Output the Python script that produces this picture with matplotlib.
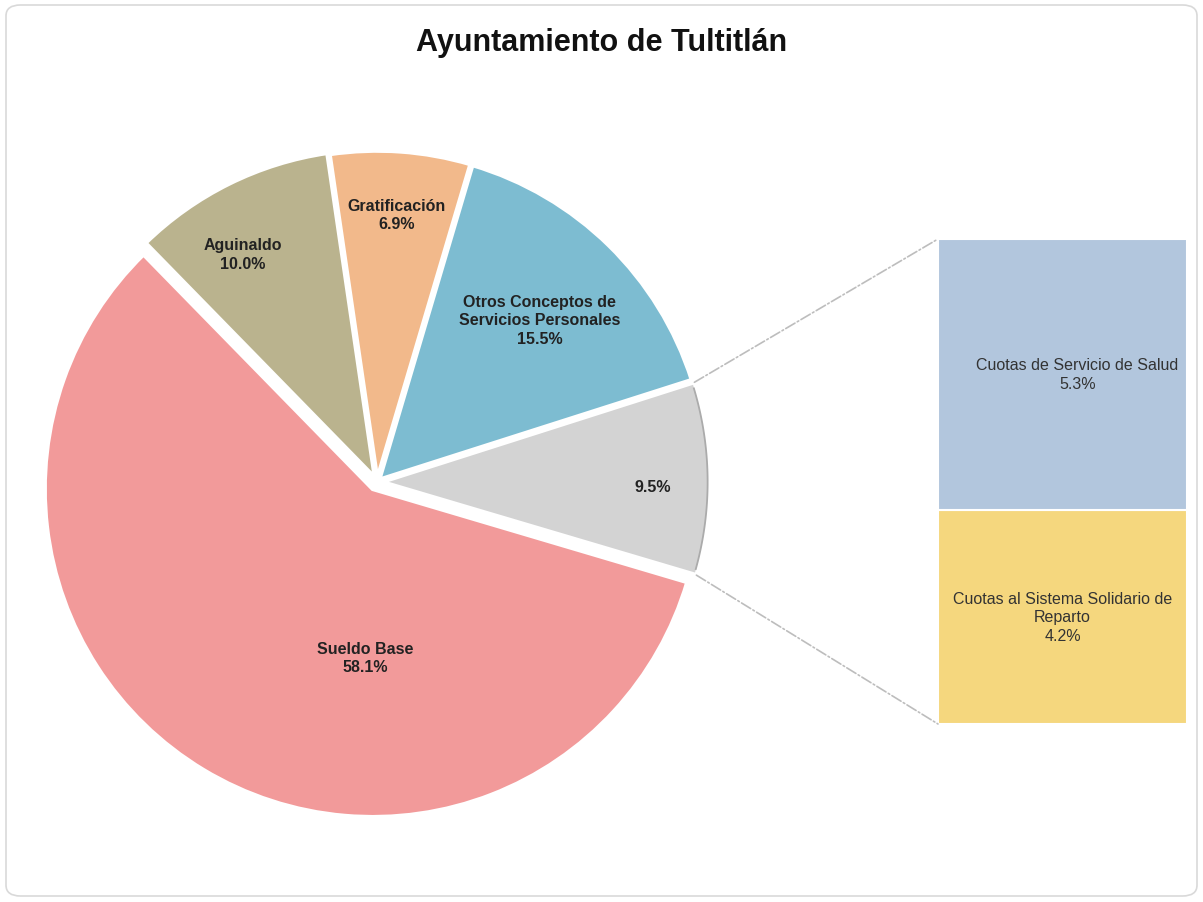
import numpy as np
import matplotlib
matplotlib.use("Agg")
import matplotlib.pyplot as plt
from matplotlib.patches import FancyBboxPatch, ConnectionPatch

plt.rcParams['font.family'] = ['Liberation Sans', 'DejaVu Sans']

#%% data
pie_labels = ['', 'Otros Conceptos de\nServicios Personales', 'Gratificación', 'Aguinaldo', 'Sueldo Base']
pie_values = [9.5, 15.5, 6.9, 10.0, 58.1]
pie_colors = ['#D3D3D3', '#7DBCD1', '#F2B98B', '#BAB38E', '#F29A9A']

bar_labels = ['Cuotas al Sistema Solidario de\nReparto', 'Cuotas de Servicio de Salud']
bar_values = [4.2, 5.3]
bar_colors = ['#F5D77E', '#B2C6DD']

title = 'Ayuntamiento de Tultitlán'

#%% figure
W, H = 1203, 903
fig = plt.figure(figsize=(W / 100, H / 100), dpi=100)

# rounded frame around the chart
frame = FancyBboxPatch((6 / W, 6 / H), 1 - 12 / W, 1 - 12 / H,
                       boxstyle="round,pad=0,rounding_size=0.012",
                       transform=fig.transFigure, facecolor='none',
                       edgecolor='#D9D9D9', lw=1.2, zorder=-1)
fig.patches.append(frame)

fig.text(0.5, 1 - 43 / H, title, ha='center', va='center',
         fontsize=22, fontweight='bold', color='#111111')

#%% pie
cx, cy, r = 377, 483, 328
start = -16.5
ax = fig.add_axes([(cx - r) / W, (H - cy - r) / H, 2 * r / W, 2 * r / H])
explode = [0.015, 0.01, 0.01, 0.015, 0.025]
wedges, _ = ax.pie(pie_values, colors=pie_colors, startangle=start,
                   counterclock=True, explode=explode,
                   wedgeprops=dict(edgecolor='white', linewidth=3))
ax.set_xlim(-1, 1)
ax.set_ylim(-1, 1)
ax.set_aspect('equal')
ax.axis('off')
for w in wedges:
    w.set_clip_on(False)

# outline on the gray slice arc
th = np.linspace(start + 1.0, start + pie_values[0] * 3.6 - 1.0, 50)
ax.plot(0.993 * np.cos(np.radians(th)) + explode[0],
        0.993 * np.sin(np.radians(th)), color='#ABABAB', lw=1.3, clip_on=False)

label_pos = [(0.84, -0.015), (0.495, 0.495), (0.06, 0.815), (-0.41, 0.695), (-0.036, -0.535)]
for lab, v, (lx, ly) in zip(pie_labels, pie_values, label_pos):
    txt = f"{v:.1f}%" if lab == '' else f"{lab}\n{v:.1f}%"
    ax.text(lx, ly, txt, ha='center', va='center', fontsize=11.5,
            fontweight='bold', color='#222222', linespacing=1.3)

#%% bar of pie
bx0, bx1, by0, by1 = 938, 1187, 240, 725
bax = fig.add_axes([bx0 / W, (H - by1) / H, (bx1 - bx0) / W, (by1 - by0) / H])
bottom = 0
for lab, v, c in zip(bar_labels, bar_values, bar_colors):
    bax.bar(0, v, bottom=bottom, width=1, color=c, edgecolor='white', lw=1.5)
    bax.text(0.06 if '\n' not in lab else 0, bottom + v / 2, f"{lab}\n{v:.1f}%",
             ha='center', va='center', fontsize=11.5, color='#333333',
             linespacing=1.3)
    bottom += v
bax.set_xlim(-0.5, 0.5)
bax.set_ylim(0, sum(bar_values))
bax.axis('off')

#%% connecting lines
a1 = np.radians(start + pie_values[0] * 3.6)
a0 = np.radians(start)
for ang, yb in [(a1, sum(bar_values)), (a0, 0)]:
    con = ConnectionPatch(xyA=(np.cos(ang) + explode[0], np.sin(ang)), coordsA=ax.transData,
                          xyB=(-0.5, yb), coordsB=bax.transData,
                          color='#BDBDBD', lw=1.2, linestyle='-.')
    fig.add_artist(con)

fig.savefig('out.png', dpi=100, facecolor='white')
